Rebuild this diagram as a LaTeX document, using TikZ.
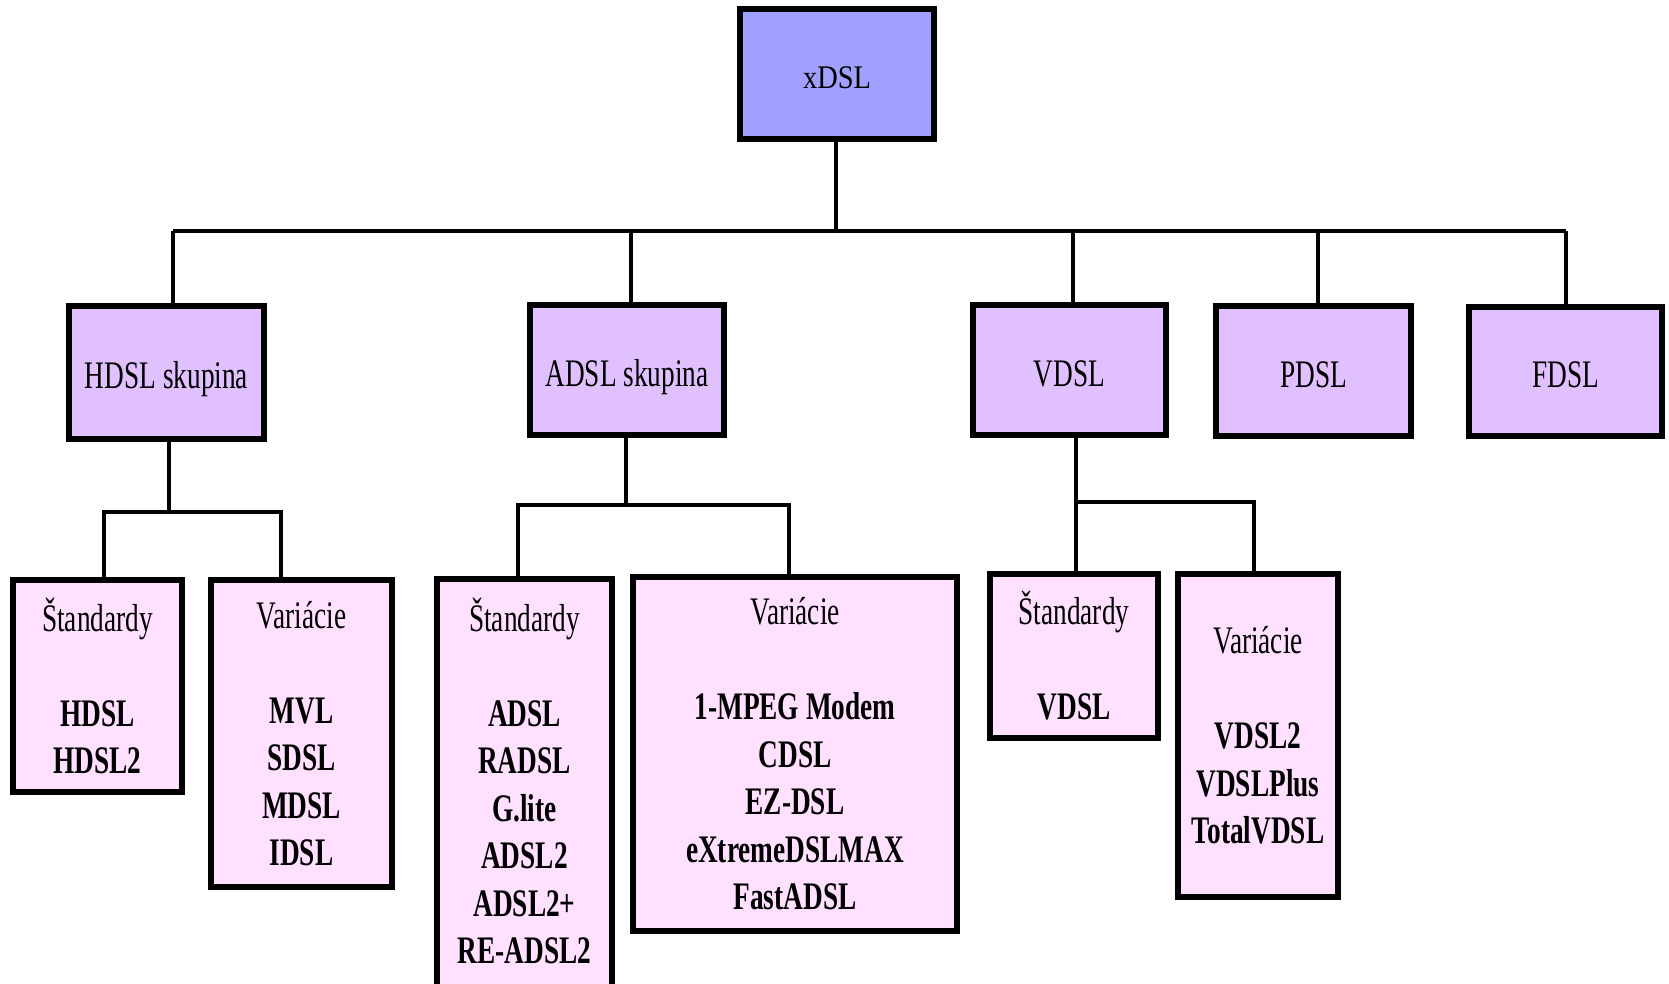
\documentclass[tikz,border=0pt]{standalone}
\usepackage{fontspec}
\setmainfont{Liberation Serif}
\newfontfamily\condA[FakeStretch=0.70]{Liberation Serif}
\newfontfamily\condX[FakeStretch=0.86]{Liberation Serif}
\definecolor{xtop}{HTML}{A0A0FF}
\definecolor{xmid}{HTML}{E0C0FF}
\definecolor{xleaf}{HTML}{FFE0FF}
\begin{document}
\begin{tikzpicture}[x=1pt,y=-1pt,
  box/.style={draw=black, line width=6pt, rectangle, inner sep=0pt, align=center},
  topbox/.style={box, fill=xtop, font=\condX\fontsize{33}{40}\selectfont, text height=29pt, text depth=0pt},
  midbox/.style={box, fill=xmid, font=\condA\fontsize{39}{47.5}\selectfont, text height=32pt, text depth=0pt},
  leafbox/.style={box, fill=xleaf, line width=5.5pt, font=\condA\fontsize{39}{47.5}\selectfont},
  link/.style={line width=3.5pt, line join=miter}]
\useasboundingbox (0,0) rectangle (1669,984);
\fill[white] (0,0) rectangle (1669,984);

% top
\node[topbox, minimum width=194pt, minimum height=130pt] (x) at (837,74) {xDSL};

% level 2
\node[midbox, minimum width=195pt, minimum height=133pt] (hd) at (166.5,372.5) {HDSL skupina};
\node[midbox, minimum width=194pt, minimum height=130pt] (ad) at (627,370) {ADSL skupina};
\node[midbox, minimum width=193pt, minimum height=130pt] (vd) at (1069.5,370) {VDSL};
\node[midbox, minimum width=195pt, minimum height=130pt] (pd) at (1313.5,371) {PDSL};
\node[midbox, minimum width=193pt, minimum height=129pt] (fd) at (1565.5,371.5) {FDSL};

% level 3
\node[leafbox, minimum width=169pt, minimum height=212pt] (hs) at (97.5,686)
  {Štandardy\\[47.5pt]\textbf{HDSL}\\\textbf{HDSL2}};
\node[leafbox, minimum width=181pt, minimum height=307pt] (hv) at (301.5,733.5)
  {Variácie\\[47.5pt]\textbf{MVL}\\\textbf{SDSL}\\\textbf{MDSL}\\\textbf{IDSL}};
\node[leafbox, minimum width=175pt, minimum height=414pt, text depth=11pt] (as) at (524.5,786)
  {Štandardy\\[47.5pt]\textbf{ADSL}\\\textbf{RADSL}\\\textbf{G.lite}\\\textbf{ADSL2}\\\textbf{ADSL2+}\\\textbf{RE-ADSL2}};
\node[leafbox, minimum width=324pt, minimum height=354pt] (av) at (795,754)
  {Variácie\\[47.5pt]\textbf{1-MPEG Modem}\\\textbf{CDSL}\\\textbf{EZ-DSL}\\\textbf{eXtremeDSLMAX}\\\textbf{FastADSL}};
\node[leafbox, minimum width=168pt, minimum height=164pt] (vs) at (1074,656)
  {Štandardy\\[47.5pt]\textbf{VDSL}};
\node[leafbox, minimum width=160pt, minimum height=323pt] (vv) at (1258,735.5)
  {Variácie\\[47.5pt]\textbf{VDSL2}\\\textbf{VDSLPlus}\\\textbf{TotalVDSL}};

% junction coordinates
\coordinate (b0) at (836,231);
\coordinate (bh) at (173,231);
\coordinate (ba) at (631,231);
\coordinate (bv) at (1073,231);
\coordinate (bp) at (1318,231);
\coordinate (bf) at (1566,231);

\coordinate (hj) at (169,512);
\coordinate (hjl) at (104,512);
\coordinate (hjr) at (281,512);

\coordinate (aj) at (626,505);
\coordinate (ajl) at (518,505);
\coordinate (ajr) at (789,505);

\coordinate (vj) at (1076,502);
\coordinate (vjr) at (1254,502);

% connectors
\draw[link] (b0 |- x.south) -- (b0);
\draw[link] (bh) -- (bf);
\draw[link] (bh) -- (bh |- hd.north);
\draw[link] (ba) -- (ba |- ad.north);
\draw[link] (bv) -- (bv |- vd.north);
\draw[link] (bp) -- (bp |- pd.north);
\draw[link] (bf) -- (bf |- fd.north);

\draw[link] (hj |- hd.south) -- (hj);
\draw[link] (hjl |- hs.north) -- (hjl) -- (hjr) -- (hjr |- hv.north);

\draw[link] (aj |- ad.south) -- (aj);
\draw[link] (ajl |- as.north) -- (ajl) -- (ajr) -- (ajr |- av.north);

\draw[link] (vj |- vd.south) -- (vj |- vs.north);
\draw[link] (vj) -- (vjr) -- (vjr |- vv.north);
\end{tikzpicture}
\end{document}
